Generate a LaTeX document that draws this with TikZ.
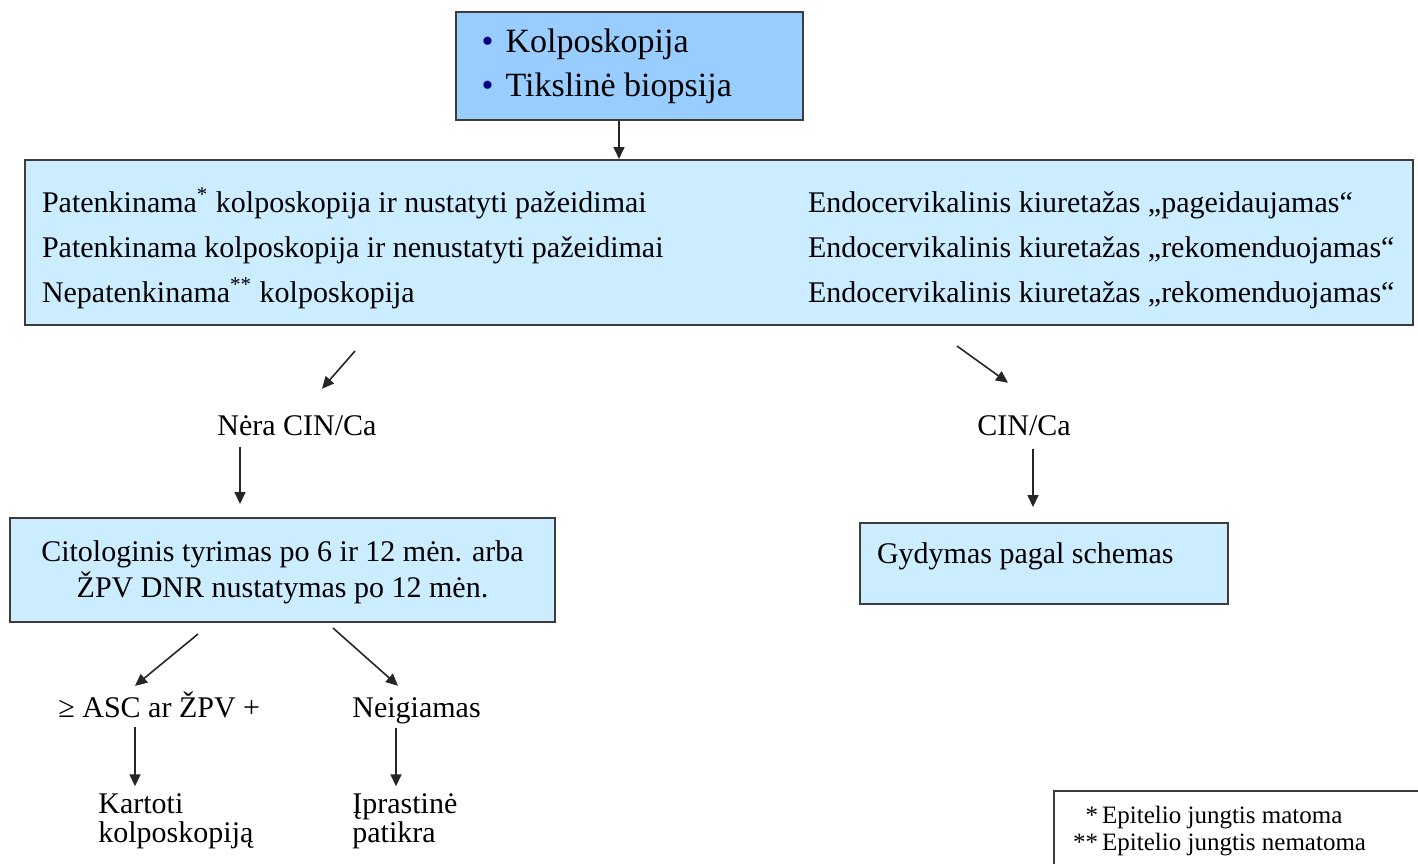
\documentclass[tikz,border=0pt]{standalone}
\usepackage{fontspec}
\setmainfont{Liberation Serif}
\usepackage{tikz}
\usetikzlibrary{arrows.meta, positioning}
\usepackage{xcolor}

\definecolor{boxblue}{RGB}{153,204,255}
\definecolor{paleblue}{RGB}{204,236,255}
\definecolor{bulletblue}{RGB}{0,0,128}
\definecolor{edgegray}{RGB}{60,60,60}

\begin{document}
\begin{tikzpicture}[x=0.5pt, y=-0.5pt,
  box/.style={rectangle, draw=edgegray, line width=1pt, inner sep=0pt},
  lbl/.style={inner sep=0pt, font=\fontsize{15}{14.5}\selectfont},
  arr/.style={-{Triangle[length=6pt, width=5.5pt]}, line width=0.8pt, draw=black!85}]

  \useasboundingbox (0, 0) rectangle (1418, 863);

  \node[box, fill=boxblue, minimum width=173.5pt, minimum height=54pt, inner xsep=13pt] (top) at (629, 66)
    {\fontsize{17}{22}\selectfont
     \begin{tabular}{@{}p{147.5pt}@{}}
       \makebox[12pt][l]{\textcolor{bulletblue}{\textbullet}}Kolposkopija\\
       \makebox[12pt][l]{\textcolor{bulletblue}{\textbullet}}Tikslinė biopsija
     \end{tabular}};

  \node[box, fill=paleblue, minimum width=694pt, minimum height=82.5pt, inner xsep=8.5pt] (main) at (719, 242.5)
    {\fontsize{15}{22.5}\selectfont
     \begin{tabular}{@{}p{383pt}@{}p{294pt}@{}}
       \rule{0pt}{21.25pt}Patenkinama\textsuperscript{*} kolposkopija ir nustatyti pažeidimai & Endocervikalinis kiuretažas „pageidaujamas“\\
       Patenkinama kolposkopija ir nenustatyti pažeidimai & Endocervikalinis kiuretažas „rekomenduojamas“\\
       Nepatenkinama\textsuperscript{**} kolposkopija & Endocervikalinis kiuretažas „rekomenduojamas“
     \end{tabular}};

  \node[lbl, anchor=base] (nocin) at (297, 435) {Nėra CIN/Ca};
  \node[lbl, anchor=base] (cin) at (1024, 435) {CIN/Ca};

  \node[box, fill=paleblue, minimum width=272.5pt, minimum height=52pt] (cito) at (282.5, 570)
    {\fontsize{15}{17}\selectfont
     \begin{tabular}{@{}c@{}}
       \rule{0pt}{14.9pt}Citologinis tyrimas po 6 ir 12 mėn. arba\\
       ŽPV DNR nustatymas po 12 mėn.
     \end{tabular}};

  \node[box, fill=paleblue, minimum width=184pt, minimum height=40.5pt, inner xsep=8.5pt] (gyd) at (1044, 563.5)
    {\fontsize{15}{17}\selectfont
     \begin{tabular}{@{}p{167pt}@{}}
       Gydymas pagal schemas\rule[-12.4pt]{0pt}{12.4pt}
     \end{tabular}};

  \node[lbl, anchor=base west] (asc) at (58, 717) {≥ ASC ar ŽPV +};
  \node[lbl, anchor=base west] (neig) at (352, 717) {Neigiamas};

  \node[lbl, anchor=base west] (kart) at (98, 813)
    {\begin{tabular}[t]{@{}l@{}}Kartoti\\ kolposkopiją\end{tabular}};
  \node[lbl, anchor=base west] (iprast) at (352, 813)
    {\begin{tabular}[t]{@{}l@{}}Įprastinė\\ patikra\end{tabular}};

  \node[box, fill=white, anchor=north west, inner xsep=9.5pt, inner ysep=7pt] (legend) at (1053, 790)
    {\fontsize{12.5}{13.5}\selectfont
     \begin{tabular}{@{}r@{\,}p{170pt}@{}}
       {*} & Epitelio jungtis matoma\\
       {**} & Epitelio jungtis nematoma
     \end{tabular}};

  \draw[arr] ([xshift=-5pt]top.south) -- ([xshift=-5pt]top.south |- main.north);
  \draw[arr] ([shift={(-364,25)}]main.south) -- ([shift={(25,-26)}]nocin.north);
  \draw[arr] ([shift={(238,20)}]main.south) -- ([shift={(-16,-32)}]cin.north);
  \draw[arr] ([shift={(-57,11)}]nocin.south) -- ([shift={(-42.5,-13)}]cito.north);
  \draw[arr] ([shift={(9,13)}]cin.south) -- ([shift={(-11,-15)}]gyd.north);
  \draw[arr] ([shift={(-84.5,11)}]cito.south) -- ([shift={(77,-5)}]asc.north west);
  \draw[arr] ([shift={(50.5,5)}]cito.south) -- ([shift={(46,-11)}]neig.north west);
  \draw[arr] ([shift={(77,9)}]asc.south west) -- ([shift={(37,-6)}]kart.north west);
  \draw[arr] ([shift={(44,4.5)}]neig.south west) -- ([shift={(44,-6)}]iprast.north west);
\end{tikzpicture}
\end{document}
